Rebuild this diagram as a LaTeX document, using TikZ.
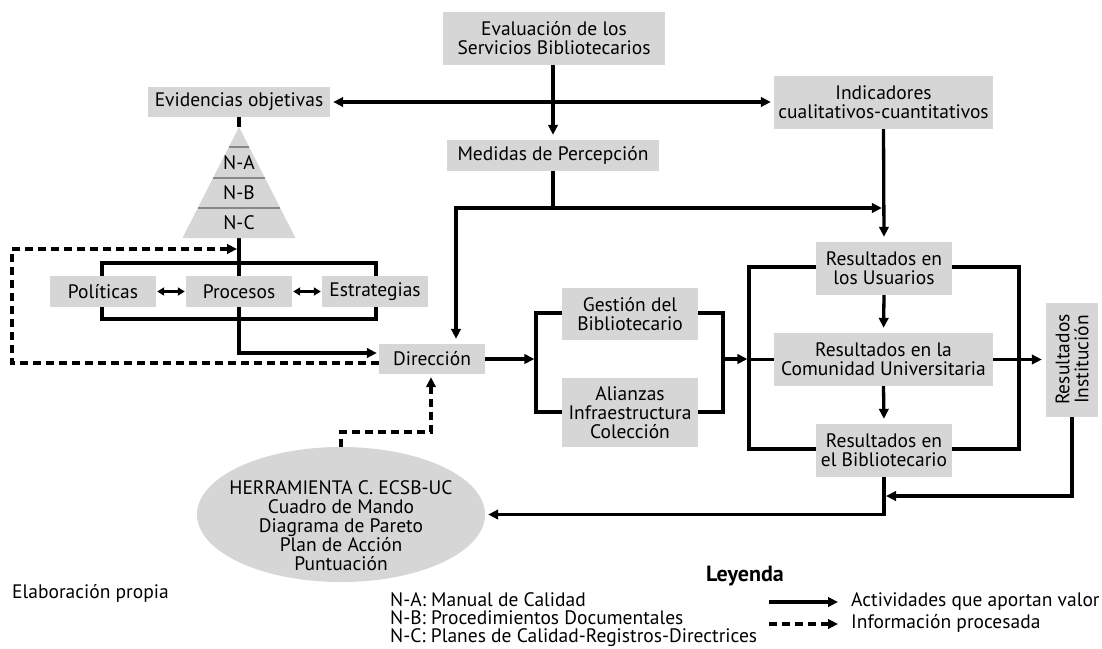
\documentclass[tikz,border=0pt]{standalone}
\usepackage{fontspec}
\setmainfont{PT Sans}
\usetikzlibrary{arrows.meta,shapes.geometric,calc}
\definecolor{boxgray}{RGB}{214,214,214}
\definecolor{sepgray}{RGB}{135,135,135}
\pgfdeclarelayer{bg}
\pgfsetlayers{bg,main}
\begin{document}
\begin{tikzpicture}[x=1pt,y=-1pt,
  box/.style={fill=boxgray,inner sep=0pt,align=center,font=\fontsize{19.5}{19}\selectfont},
  txt/.style={inner sep=0pt,font=\fontsize{19.5}{19}\selectfont},
  ln/.style={line width=3.3pt},
  arr/.style={line width=3.3pt,-{Triangle[length=10pt,width=9.5pt]}},
  darr/.style={line width=3.3pt,{Triangle[length=10pt,width=9.5pt]}-{Triangle[length=10pt,width=9.5pt]}},
  sarr/.style={line width=3.3pt,{Triangle[length=7pt,width=8pt]}-{Triangle[length=7pt,width=8pt]}},
  dsh/.style={line width=3.3pt,dash pattern=on 8pt off 5pt,-{Triangle[length=10pt,width=9.5pt]}},
  sep/.style={draw=sepgray,line width=1.5pt},
]
\useasboundingbox (0,0) rectangle (1102,648);

% boxes
\node[box,minimum width=222,minimum height=53] (eval) at (554,38.5) {Evaluación de los\\Servicios Bibliotecarios};
\node[box,minimum width=182,minimum height=30] (evid) at (239,102) {Evidencias objetivas};
\node[box,minimum width=219,minimum height=53] (ind) at (883.5,102.5) {Indicadores\\cualitativos-cuantitativos};
\node[box,minimum width=212,minimum height=31] (med) at (553,155.5) {Medidas de Percepción};
\node[box,minimum width=136,minimum height=53] (usu) at (884,268.5) {Resultados en\\los Usuarios};
\node[box,minimum width=106,minimum height=31] (pol) at (103,291.5) {Políticas};
\node[box,minimum width=106,minimum height=31] (pro) at (239,291.5) {Procesos};
\node[box,minimum width=106,minimum height=31] (est) at (375,291.5) {Estrategias};
\node[box,minimum width=136,minimum height=52] (ges) at (630,314) {Gestión del\\Bibliotecario};
\node[box,minimum width=136,minimum height=69] (ali) at (630,412.5) {Alianzas\\Infraestructura\\Colección};
\node[box,minimum width=106,minimum height=30] (dir) at (432,359) {Dirección};
\node[box,minimum width=219,minimum height=53] (com) at (883.5,359.5) {Resultados en la\\Comunidad Universitaria};
\node[box,minimum width=136,minimum height=53] (bib) at (884,450.5) {Resultados en\\el Bibliotecario};
\node[box,minimum width=114,minimum height=52,rotate=90] (ins) at (1072,359.5) {Resultados\\Institución};
\node[ellipse,fill=boxgray,minimum width=288,minimum height=135,inner sep=0pt] (herr) at (341,514.5) {};
\node[txt,align=center] (herrt) at (341,526) {HERRAMIENTA C. ECSB-UC\\Cuadro de Mando\\Diagrama de Pareto\\Plan de Acción\\Puntuación};

% pyramid
\coordinate (pyrtop) at (239,127);
\coordinate (pyrbot) at (239,238);
\fill[boxgray] (pyrtop) -- (295.5,238) -- (182.5,238) -- cycle;
\draw[sep] (228.8,147) -- (249.2,147);
\draw[sep] (213,178) -- (265,178);
\draw[sep] (197.8,208) -- (280.2,208);
\node[txt] (na) at (239,163) {N-A};
\node[txt] (nb) at (239,193) {N-B};
\node[txt] (nc) at (239,223) {N-C};

% helper coordinates
\coordinate (mj) at (553,208);
\coordinate (lj) at (456,208);
\coordinate (pb1) at (102,263);
\coordinate (pb2) at (376,319);
\coordinate (gb1) at (536,313);
\coordinate (gb2) at (723,412);
\coordinate (bb1) at (749,267);
\coordinate (bb2) at (1019,449);
\coordinate (dtl) at (12,249);
\coordinate (dtip) at (237,249);
\coordinate (ed) at (431,432);
\coordinate (ij) at (886,496);

\begin{pgfonlayer}{bg}
\fill[white] (0,0) rectangle (1102,648);
% brackets
\draw[ln] (pb1) rectangle (pb2);
\draw[ln] (gb1) rectangle (gb2);
\draw[ln] (bb1) rectangle (bb2);
% top part
\draw[darr,shorten <=3pt,shorten >=3pt] (evid.east) -- (ind.west |- evid.east);
\draw[arr,shorten >=5pt] (med.north |- eval.south) -- (med.north);
\draw[ln] (med.south) -- (mj);
\draw[arr,shorten >=5pt] (mj) -- (lj) -- (lj |- dir.north);
\draw[arr,shorten >=1.6pt] (mj) -- (mj -| ind.south);
\draw[arr,shorten >=5pt] (ind.south) -- (usu.north);
% left part
\draw[ln] (evid.south) -- (pyrtop);
\draw[ln] (pyrbot) -- (pro.north);
\draw[arr,shorten >=2pt] (pro.south) |- ($(dir.west)+(0,-6)$);
\draw[sarr,shorten <=1pt,shorten >=1pt] (pol.east) -- (pro.west);
\draw[sarr,shorten <=1pt,shorten >=1pt] (pro.east) -- (est.west);
\draw[dsh] ($(dir.west)+(0,4)$) -| (dtl) -- (dtip);
% middle
\draw[arr,shorten >=1.6pt] (dir.east) -- (dir.east -| gb1);
\draw[arr,shorten >=1.6pt] (gb2 |- dir.east) -- (bb1 |- dir.east);
\draw[ln] (bb1 |- com.west) -- (com.west);
\draw[arr,shorten >=5pt] (usu.south) -- (com.north);
\draw[arr,shorten >=5pt] (com.south) -- (bib.north);
\draw[arr,shorten >=4pt] (com.east) -- (ins.north |- com.east);
\draw[arr] (ins.west) |- (ij);
\draw[arr,shorten >=3pt] (bib.south) |- (herr.east);
\draw[dsh,shorten >=3pt] (herr.north) |- (ed) -- (ed |- dir.south);
\end{pgfonlayer}

% legend
\node[inner sep=0pt,font=\fontsize{22}{22}\selectfont\bfseries] (ley) at (745,576) {Leyenda};
\coordinate (l1a) at (769,602);
\coordinate (l1b) at (838,602);
\coordinate (l2a) at (769,624);
\coordinate (l2b) at (838,624);
\draw[arr] (l1a) -- (l1b);
\draw[dsh] (l2a) -- (l2b);
\node[txt,anchor=west] (l1t) at (851,602) {Actividades que aportan valor};
\node[txt,anchor=west] (l2t) at (851,623) {Información procesada};
\node[txt,anchor=north west,align=left,font=\fontsize{19.5}{18}\selectfont] (nlist) at (390,592) {N-A: Manual de Calidad\\N-B: Procedimientos Documentales\\N-C: Planes de Calidad-Registros-Directrices};
\node[txt,anchor=west] (elab) at (12,593) {Elaboración propia};
\end{tikzpicture}
\end{document}
